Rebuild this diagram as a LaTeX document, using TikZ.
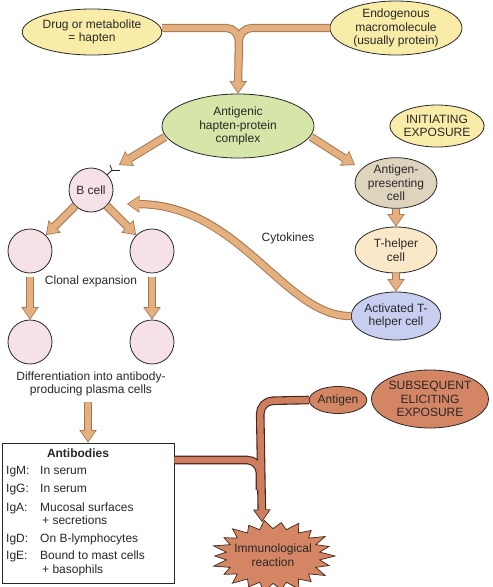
\documentclass[tikz,border=0pt]{standalone}
\usepackage{fontspec}
\setmainfont{Liberation Sans}
\usetikzlibrary{arrows.meta,calc,shapes.geometric}
\definecolor{yel}{RGB}{248,236,168}
\definecolor{grn}{RGB}{214,229,168}
\definecolor{apc}{RGB}{222,212,190}
\definecolor{thc}{RGB}{250,232,200}
\definecolor{act}{RGB}{200,206,240}
\definecolor{pnk}{RGB}{246,226,230}
\definecolor{rust}{RGB}{212,134,100}
\definecolor{tanf}{RGB}{228,176,128}
\definecolor{tanl}{RGB}{168,118,78}
\definecolor{rustf}{RGB}{206,126,94}
\definecolor{rustl}{RGB}{70,36,24}
\definecolor{ink}{RGB}{40,40,40}
\tikzset{
  every node/.style={font=\fontsize{12}{13.5}\selectfont, text=ink},
  oval/.style={ellipse, draw=ink, line width=0.8pt, align=center, inner sep=0pt},
  cellc/.style={circle, draw=ink, line width=0.8pt, fill=pnk, minimum size=44pt, inner sep=0pt},
  tanband/.style={line width=6.2pt, draw=tanf, line join=round,
     -{Triangle[width=14.5pt,length=10.5pt,line width=0pt]}, shorten >=1.3pt,
     preaction={draw=tanl, line width=8.2pt, -{Triangle[width=17.5pt,length=12.5pt,line width=0pt]}, shorten >=0pt}},
  rustband/.style={line width=6.4pt, draw=rustf, line join=round,
     -{Triangle[width=14.5pt,length=10.5pt,line width=0pt]}, shorten >=1.3pt,
     preaction={draw=rustl, line width=8.6pt, -{Triangle[width=17.5pt,length=12.5pt,line width=0pt]}, shorten >=0pt}},
}
\begin{document}
\begin{tikzpicture}[x=1pt,y=-1pt]
\useasboundingbox (0,0) rectangle (493,587);
\fill[white] (0,0) rectangle (493,587);

% top nodes
\node[oval, fill=yel, minimum width=130pt, minimum height=46pt] (drug) at (92,32) {Drug or metabolite\\= hapten};
\node[oval, fill=yel, minimum width=132pt, minimum height=54pt] (endo) at (396,28) {Endogenous\\macromolecule\\(usually protein)};
\node[oval, fill=grn, minimum width=152pt, minimum height=64pt] (antig) at (238,126) {Antigenic\\hapten-protein\\complex};
\node[oval, fill=yel, minimum width=87pt, minimum height=42pt] (init) at (437,126) {INITIATING\\EXPOSURE};

% right column
\node[oval, fill=apc, minimum width=82pt, minimum height=47pt] (apc) at (396,183) {Antigen-\\presenting\\cell};
\node[oval, fill=thc, minimum width=82pt, minimum height=46pt] (th) at (396,250) {T-helper\\cell};
\node[oval, fill=act, minimum width=82pt, minimum height=48pt] (act) at (396,316) {Activated T-\\helper cell};

% B cells
\node[cellc] (bcell) at (91,190) {B cell};
\node[cellc] (c1) at (30,251) {};
\node[cellc] (c2) at (152,251) {};
\node[cellc] (c3) at (30,342) {};
\node[cellc] (c4) at (152,342) {};
\node (clonal) at (91,281) {Clonal expansion};
\node[align=center] (diff) at (91,384) {Differentiation into antibody-\\producing plasma cells};
\node (cyto) at (288,238) {Cytokines};

% receptor on B cell
\draw[ink, line width=0.8pt] (107,175) -- (112,170) coordinate (rc) -- (110,165);
\draw[ink, line width=0.8pt] (rc) -- (120,170);
\coordinate (btip) at (119,165);
\coordinate (atip) at (355,165);
\coordinate (ctip) at (127,204);

% antibodies box
\node[draw=ink, line width=0.8pt, fill=white, minimum width=172pt, minimum height=140pt, inner sep=0pt] (box) at (88,513) {};
\node[font=\fontsize{12}{13.5}\selectfont\bfseries] (abt) at (78,453) {Antibodies};
\begin{scope}[every node/.append style={anchor=base west, inner sep=0pt}]
\node (l1) at (6,474) {IgM:};  \node (v1) at (40,474) {In serum};
\node (l2) at (6,492) {IgG:};  \node (v2) at (40,492) {In serum};
\node (l3) at (6,511) {IgA:};  \node (v3) at (40,511) {Mucosal surfaces};
\node (v3b) at (42,524) {+ secretions};
\node (l4) at (6,542) {IgD:};  \node (v4) at (40,542) {On B-lymphocytes};
\node (l5) at (6,559) {IgE:};  \node (v5) at (40,559) {Bound to mast cells};
\node (v5b) at (42,573) {+ basophils};
\end{scope}

% subsequent
\node[oval, fill=rust, minimum width=57pt, minimum height=27pt] (antigen) at (338,400) {Antigen};
\node[oval, fill=rust, minimum width=106pt, minimum height=58pt] (subs) at (430,399) {SUBSEQUENT\\ELICITING\\EXPOSURE};

% starburst
\coordinate (bc) at (273,556);
\fill[rust, draw=rustl, line width=0.7pt]
  ($(bc)+(0:62 and 36)$)
  \foreach \i [evaluate=\i as \r using {mod(\i,2)==0?(mod(\i,4)==0?1:0.94):0.76}, evaluate=\i as \a using {\i*360/44}] in {1,...,43} {
    -- ($(bc)+(\a:{62*\r} and {36*\r})$)
  } -- cycle;
\node[align=center] (burst) at (273,555) {Immunological\\reaction};
\coordinate (bursttop) at (262,522);

% tan connectors
\draw[tanband, rounded corners=13pt] (endo.west |- 0,28) -- (239,28) -- (239,60) (drug.east |- 0,28) -- (239,28) -- (antig.north);
\draw[tanband] (165,137) -- (btip);
\draw[tanband] (311,137) -- (atip);
\draw[tanband] (apc.south) -- (th.north);
\draw[tanband] (th.south) -- (act.north);
\draw[tanband] (bcell.south west) -- (c1.north east);
\draw[tanband] (bcell.south east) -- (c2.north west);
\draw[tanband] (c1.south |- 0,277) -- (c3.north);
\draw[tanband] (c2.south |- 0,277) -- (c4.north);
\draw[tanband] (88,402) -- (box.north -| 88,0);
\draw[tanband] (act.west) .. controls (285,317) and (240,205) .. (ctip);

% rust connectors
\draw[rustband, rounded corners=13pt] (box.east |- 0,460) -- (260,460) -- (260,490) (antigen.west) -- (260,401) -- (bursttop);
\end{tikzpicture}
\end{document}
